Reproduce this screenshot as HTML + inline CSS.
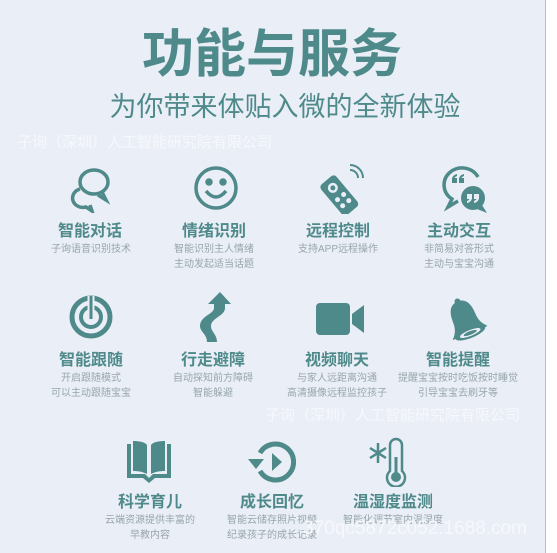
<!DOCTYPE html>
<html><head><meta charset="utf-8"><style>
body{margin:0;width:557px;height:553px;overflow:hidden;background:#fff;font-family:"Liberation Sans","Noto Sans CJK SC",sans-serif}
#bg{position:absolute;left:0;top:0;width:545px;height:553px;background:#eaeef7;border-right:1px solid #b9bcc4}
.t{position:absolute;white-space:nowrap;transform:translateX(-50%)}
.h{font-size:16px;font-weight:bold;color:#4f8a8b}
.d{font-size:10px;color:#97a6ab;line-height:15px;text-align:center}
.wm{position:absolute;white-space:nowrap;color:#f6f8fc;font-size:15px}
svg{position:absolute}
</style></head><body>
<div id="bg"></div>
<div class="t" style="left:272px;top:12px;font-size:52px;font-weight:bold;color:#4f8a8b">功能与服务</div>
<div class="t" style="left:285px;top:85px;font-size:27px;color:#4f8a8b">为你带来体贴入微的全新体验</div>
<div class="wm" style="left:17px;top:131px">子询（深圳）人工智能研究院有限公司</div>
<div class="wm" style="left:265px;top:404px">子询（深圳）人工智能研究院有限公司</div>

<svg style="left:68px;top:165px" width="44" height="48" viewBox="0 0 44 48" fill="none" stroke="#4f8a8b" stroke-width="3.5"><ellipse cx="26" cy="17" rx="14" ry="12"/><path d="M34 27 l4 8 -8 -5"/><path d="M12 24 a10 9 0 1 0 6 18 l6 4 -2 -6"/></svg>
<svg style="left:193px;top:165px" width="46" height="46" viewBox="0 0 46 46" fill="none" stroke="#4f8a8b" stroke-width="3.5"><circle cx="23" cy="23" r="20"/><path d="M13 26 q10 12 20 0"/><circle cx="16" cy="17" r="2" fill="#4f8a8b"/><circle cx="30" cy="17" r="2" fill="#4f8a8b"/></svg>
<svg style="left:316px;top:164px" width="48" height="50" viewBox="0 0 48 50"><g transform="rotate(-40 22 30)"><rect x="12" y="12" width="20" height="40" rx="4" fill="#4f8a8b"/><circle cx="22" cy="22" r="5" fill="#eaeef7"/><circle cx="22" cy="22" r="2.5" fill="#4f8a8b"/><circle cx="18" cy="34" r="2.5" fill="#eaeef7"/><circle cx="26" cy="34" r="2.5" fill="#eaeef7"/><circle cx="18" cy="42" r="2.5" fill="#eaeef7"/><circle cx="26" cy="42" r="2.5" fill="#eaeef7"/></g><path d="M34 6 a8 8 0 0 1 8 8 M34 1 a13 13 0 0 1 13 13" stroke="#4f8a8b" stroke-width="2" fill="none"/></svg>
<svg style="left:440px;top:165px" width="48" height="50" viewBox="0 0 48 50"><path d="M38 12 A18 17 0 1 0 12 34 l-4 8 10 -6" fill="none" stroke="#4f8a8b" stroke-width="3.5"/><circle cx="33" cy="33" r="12" fill="#4f8a8b"/><path d="M42 40 l5 8 -10 -4z" fill="#4f8a8b"/><g fill="#4f8a8b"><rect x="12" y="13" width="5" height="5"/><path d="M12 15 q0 -5 5 -6 v2 q-3 1 -3 4z"/><rect x="19" y="13" width="5" height="5"/><path d="M19 15 q0 -5 5 -6 v2 q-3 1 -3 4z"/></g><g fill="#eaeef7"><rect x="27" y="29" width="5" height="5"/><path d="M32 32 q0 5 -5 6 v-2 q3 -1 3 -4z"/><rect x="34" y="29" width="5" height="5"/><path d="M39 32 q0 5 -5 6 v-2 q3 -1 3 -4z"/></g></svg>

<div class="t h" style="left:90px;top:217px">智能对话</div>
<div class="t d" style="left:91px;top:242px">子询语音识别技术</div>
<div class="t h" style="left:214px;top:217px">情绪识别</div>
<div class="t d" style="left:214px;top:242px">智能识别主人情绪<br>主动发起适当话题</div>
<div class="t h" style="left:338px;top:217px">远程控制</div>
<div class="t d" style="left:338px;top:242px">支持APP远程操作</div>
<div class="t h" style="left:459px;top:217px">主动交互</div>
<div class="t d" style="left:459px;top:242px">非简易对答形式<br>主动与宝宝沟通</div>

<svg style="left:68px;top:294px" width="46" height="46" viewBox="0 0 46 46" fill="none" stroke="#4f8a8b"><circle cx="23" cy="23" r="19" stroke-width="5"/><circle cx="23" cy="23" r="10" stroke-width="4"/><line x1="23" y1="2" x2="23" y2="23" stroke="#eaeef7" stroke-width="7"/><line x1="23" y1="2" x2="23" y2="25" stroke-width="3"/></svg>
<svg style="left:198px;top:292px" width="34" height="50" viewBox="0 0 34 50"><path d="M22 0 l11 12 h-6 v4 c0 8 -14 10 -14 18 c0 6 6 8 6 16 h-10 c0 -8 -7 -10 -7 -16 c0 -10 14 -12 14 -18 v-4 h-6z" fill="#4f8a8b"/></svg>
<svg style="left:314px;top:302px" width="52" height="34" viewBox="0 0 52 34"><rect x="2" y="1" width="34" height="32" rx="4" fill="#4f8a8b"/><path d="M38 12 l12 -9 v28 l-12 -9z" fill="#4f8a8b"/></svg>
<svg style="left:443px;top:294px" width="44" height="48" viewBox="0 0 44 48"><g transform="rotate(-22 22 26)"><circle cx="22" cy="6" r="3" fill="#4f8a8b"/><path d="M22 6 c-9 0 -12 8 -12 18 c0 8 -3 12 -7 16 h38 c-4 -4 -7 -8 -7 -16 c0 -10 -3 -18 -12 -18z" fill="#4f8a8b"/><ellipse cx="22" cy="40" rx="16" ry="5" fill="#4f8a8b"/><ellipse cx="22" cy="40" rx="11" ry="3" fill="#eaeef7"/><ellipse cx="22" cy="40" rx="7" ry="1.8" fill="#4f8a8b"/></g></svg>

<div class="t h" style="left:91px;top:346px">智能跟随</div>
<div class="t d" style="left:91px;top:371px">开启跟随模式<br>可以主动跟随宝宝</div>
<div class="t h" style="left:213px;top:346px">行走避障</div>
<div class="t d" style="left:213px;top:371px">自动探知前方障碍<br>智能躲避</div>
<div class="t h" style="left:337px;top:346px">视频聊天</div>
<div class="t d" style="left:337px;top:371px">与家人远距离沟通<br>高清摄像远程监控孩子</div>
<div class="t h" style="left:458px;top:346px">智能提醒</div>
<div class="t d" style="left:458px;top:371px">提醒宝宝按时吃饭按时睡觉<br>引导宝宝去刷牙等</div>

<svg style="left:125px;top:440px" width="48" height="44" viewBox="0 0 48 44"><path d="M2 4 h4 v30 h14 l4 4 l4 -4 h14 v-30 h4 v34 h-16 l-6 5 l-6 -5 h-16z" fill="#4f8a8b"/><path d="M8 1 c6 0 12 1 14 4 v29 c-4 -2 -8 -3 -14 -3z M40 1 c-6 0 -12 1 -14 4 v29 c4 -2 8 -3 14 -3z" fill="#4f8a8b"/></svg>
<svg style="left:246px;top:439px" width="50" height="46" viewBox="0 0 50 46"><path d="M14 14 a18 18 0 1 1 0 18" fill="none" stroke="#4f8a8b" stroke-width="5"/><path d="M2 20 h16 l-8 10z" fill="#4f8a8b"/><path d="M26 14 l10 9 -10 9z" fill="#4f8a8b"/></svg>
<svg style="left:366px;top:437px" width="42" height="50" viewBox="0 0 42 50"><g stroke="#4f8a8b" stroke-width="2.5" fill="none"><path d="M12 6 v20 M4 11 l16 10 M20 11 l-16 10"/><path d="M24 34 v-26 a6 6 0 0 1 12 0 v26 a9 9 0 1 1 -12 0z"/></g><circle cx="30" cy="40" r="5" fill="#4f8a8b"/><line x1="30" y1="20" x2="30" y2="38" stroke="#4f8a8b" stroke-width="3"/></svg>

<div class="t h" style="left:150px;top:488px">科学育儿</div>
<div class="t d" style="left:150px;top:513px">云端资源提供丰富的<br>早教内容</div>
<div class="t h" style="left:272px;top:488px">成长回忆</div>
<div class="t d" style="left:272px;top:513px">智能云储存照片视频<br>纪录孩子的成长记录</div>
<div class="t h" style="left:393px;top:488px">温湿度监测</div>
<div class="t d" style="left:393px;top:513px">智能化调节室内温湿度</div>

<div class="wm" style="left:303px;top:518px;font-size:19px">370qc5872c052.1688.com</div>
</body></html>
